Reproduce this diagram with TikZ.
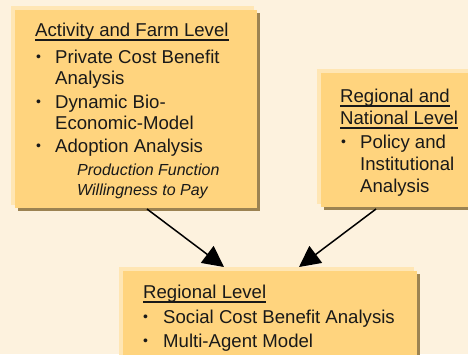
\documentclass[tikz,border=0pt]{standalone}
\usepackage{fontspec}
\setmainfont{Liberation Sans}
\usetikzlibrary{arrows.meta}
\definecolor{paper}{HTML}{FDF2DE}
\definecolor{boxfill}{HTML}{FFD47E}
\definecolor{boxglow}{HTML}{FFE6B4}
\definecolor{boxshade}{HTML}{9C8352}
\tikzset{
  x=1pt, y=-1pt,
  line/.style={anchor=base west, inner sep=0pt, font=\fontsize{18.6}{21}\selectfont, text=black!90},
  subline/.style={anchor=base west, inner sep=0pt, font=\fontsize{16}{19}\selectfont\itshape, text=black!90},
  bul/.style={anchor=base west, inner sep=0pt, font=\fontsize{14}{16}\selectfont, text=black!90, yshift=1.5pt},
  uline/.style={line width=1.6pt, black!90},
  flow/.style={line width=1.5pt, -{Triangle[length=21pt, width=21pt]}},
}
% shaded panel: glow to the upper left, shadow to the lower right
\newcommand{\panel}[5]{%
  \fill[boxglow] (#2-4,#3-4) rectangle (#4-3,#5-3);
  \fill[boxshade] (#2+3,#3+3) rectangle (#4+3,#5+3);
  \node[fill=boxfill, inner sep=0pt, minimum width=#4-#2, minimum height=#5-#3, anchor=north west] (#1) at (#2,#3) {};
}
\begin{document}
\begin{tikzpicture}
\useasboundingbox (0,0) rectangle (468,354);
\fill[paper] (0,0) rectangle (468,354);

\panel{farm}{15}{10}{257}{208}
\panel{nat}{321}{73}{475}{207}
\panel{reg}{123}{271}{417}{365}

% Activity and farm level
\node[line] (t1) at (35,36) {Activity and Farm Level};
\draw[uline] ([yshift=-4]t1.base west) -- ([yshift=-4]t1.base east);
\node[bul] (b11) at (36,63) {•};
\node[line] (l11) at (55,63) {Private Cost Benefit};
\node[line] (l12) at (55,84) {Analysis};
\node[bul] (b12) at (36,108) {•};
\node[line] (l13) at (55,108) {Dynamic Bio-};
\node[line] (l14) at (55,129) {Economic-Model};
\node[bul] (b13) at (36,152) {•};
\node[line] (l15) at (55,152) {Adoption Analysis};
\node[subline] (s11) at (77,175) {Production Function};
\node[subline] (s12) at (77,195) {Willingness to Pay};

% Regional and national level
\node[line] (t2) at (340,102) {Regional and};
\draw[uline] ([yshift=-4]t2.base west) -- ([yshift=-4]t2.base east);
\node[line] (t3) at (340,124) {National Level};
\draw[uline] ([yshift=-4]t3.base west) -- ([yshift=-4]t3.base east);
\node[bul] (b21) at (341,148) {•};
\node[line] (l21) at (360,148) {Policy and};
\node[line] (l22) at (360,170) {Institutional};
\node[line] (l23) at (360,192) {Analysis};

% Regional level
\node[line] (t4) at (143,298) {Regional Level};
\draw[uline] ([yshift=-4]t4.base west) -- ([yshift=-4]t4.base east);
\node[bul] (b31) at (143,323) {•};
\node[line] (l31) at (163,323) {Social Cost Benefit Analysis};
\node[bul] (b32) at (143,347) {•};
\node[line] (l32) at (163,347) {Multi-Agent Model};

% connectors
\coordinate (farmout) at (147,209);
\coordinate (natout) at (376,209);
\coordinate (regin1) at (224,267);
\coordinate (regin2) at (299,267);
\draw[flow] (farmout) -- (regin1);
\draw[flow] (natout) -- (regin2);
\end{tikzpicture}
\end{document}
